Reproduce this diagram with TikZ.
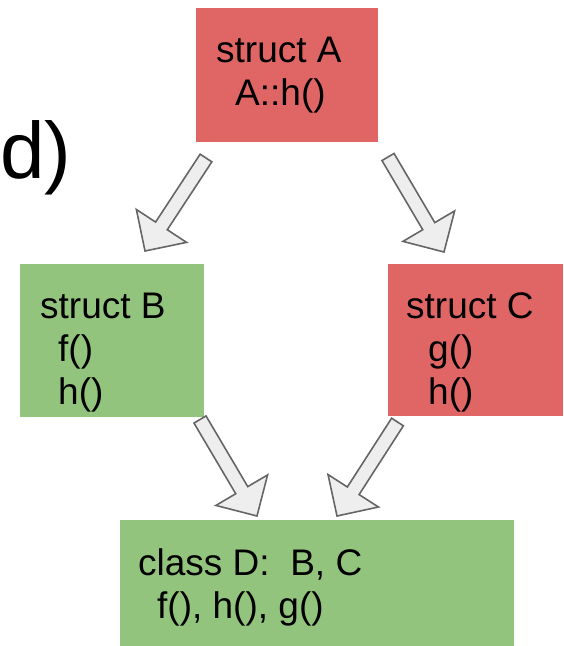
\documentclass[tikz,border=0pt]{standalone}
\usepackage{fontspec}
\setmainfont{Liberation Sans}
\usetikzlibrary{calc}
\definecolor{boxred}{HTML}{E06666}
\definecolor{boxgreen}{HTML}{93C47D}
\definecolor{arrfill}{HTML}{EEEEEE}
\definecolor{arrdraw}{HTML}{666666}
\tikzset{
  box/.style={draw=none, inner sep=0pt},
  lbl/.style={anchor=base west, inner sep=0pt, font=\fontsize{37}{42}\selectfont},
  blockarrow/.style={fill=arrfill, draw=arrdraw, line width=1.6pt, line join=miter}
}
\newcommand{\blockarr}[2]{%
  \coordinate (H) at ($(#2)!30pt!(#1)$);
  \draw[blockarrow] ($(#1)!7pt!90:(#2)$) -- ($(H)!7pt!-90:(#1)$) -- ($(H)!30pt!-90:(#1)$) -- (#2)
    -- ($(H)!30pt!90:(#1)$) -- ($(H)!7pt!90:(#1)$) -- ($(#1)!7pt!-90:(#2)$) -- cycle;}
\begin{document}
\begin{tikzpicture}[x=1pt,y=-1pt]
\useasboundingbox (0,0) rectangle (564,646);
% boxes
\fill[boxred] (196,8) rectangle (378,142) coordinate (Abr);
\node[box] (A) at (287,75) {};
\fill[boxgreen] (20,264) rectangle (204,417);
\node[box] (B) at (112,340) {};
\fill[boxred] (388,264) rectangle (563,416);
\node[box] (C) at (475,340) {};
\fill[boxgreen] (120,520) rectangle (514,646);
\node[box] (D) at (317,583) {};
% texts
\node[anchor=base west, inner sep=0pt, font=\fontsize{80}{90}\selectfont] (dl) at (0,178) {d)};
\node[lbl] (a1) at (216,62) {struct A};
\node[lbl] (a2) at (235,105) {A::h()};
\node[lbl] (b1) at (40,318) {struct B};
\node[lbl] (b2) at (58,361) {f()};
\node[lbl] (b3) at (58,404) {h()};
\node[lbl] (c1) at (406,318) {struct C};
\node[lbl] (c2) at (428,361) {g()};
\node[lbl] (c3) at (428,404) {h()};
\node[lbl] (d1) at (138,575) {class D:\ \ B, C};
\node[lbl] (d2) at (157,618) {f(), h(), g()};
% arrows
\coordinate (s1) at (206,158); \coordinate (t1) at (145,251);
\coordinate (s2) at (388,157); \coordinate (t2) at (444,252);
\coordinate (s3) at (200,419.5); \coordinate (t3) at (257,516);
\coordinate (s4) at (397.5,422); \coordinate (t4) at (337,516);
\blockarr{s1}{t1}
\blockarr{s2}{t2}
\blockarr{s3}{t3}
\blockarr{s4}{t4}
\end{tikzpicture}
\end{document}
